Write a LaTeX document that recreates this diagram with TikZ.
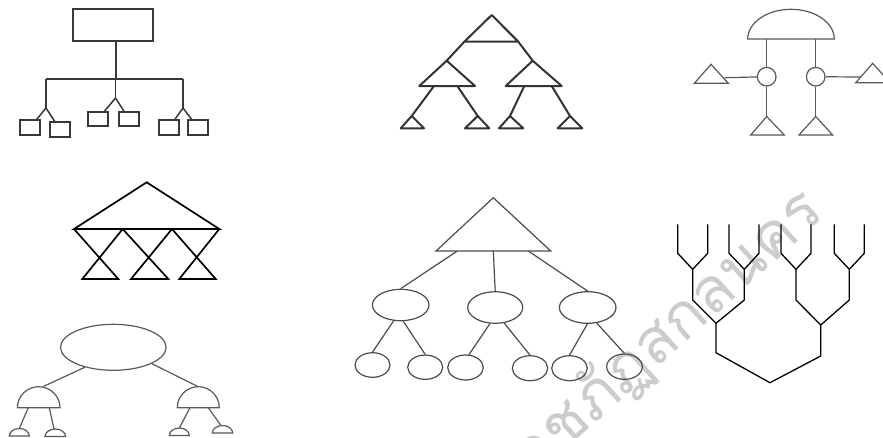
\documentclass[tikz,border=0pt]{standalone}
\usepackage{fontspec}
\newfontfamily\thaifont[Script=Thai]{Loma}
\usetikzlibrary{shapes.geometric}
\newcommand\mydome[5]{%
  \draw[#1] ({#2-#4},#3) .. controls ({#2-#4},{#3-0.552*#5}) and ({#2-0.552*#4},{#3-#5}) .. (#2,{#3-#5}) .. controls ({#2+0.552*#4},{#3-#5}) and ({#2+#4},{#3-0.552*#5}) .. ({#2+#4},#3) -- cycle;}
\begin{document}
\begin{tikzpicture}[x=1pt,y=-1pt,
  ln1/.style={draw=black!78, line width=1.5pt},
  ln2/.style={draw=black!80, line width=2pt, line join=round},
  ln3/.style={draw=black!65, line width=1.2pt, line join=miter},
  ln4/.style={draw=black, line width=1.7pt, line join=miter},
  ln5/.style={draw=black!65, line width=1.2pt},
  ln6/.style={draw=black!70, line width=1.2pt},
  ln7/.style={draw=black, line width=1.3pt, line join=miter},
  rbox/.style={ln1, rectangle, inner sep=0pt},
  circ/.style={ln3, circle, inner sep=0pt, minimum size=18.6pt},
  ell/.style={ellipse, inner sep=0pt},
  wmark/.style={text=black!20, font=\thaifont\fontsize{62}{62}\selectfont, inner sep=0pt}]
\fill[white] (0,0) rectangle (883,437);
\useasboundingbox (0,0) rectangle (883,437);

% watermark
\node[wmark, rotate=42] (wm) at (657,343) {ราชภัฏสกลนคร};

% ---------- diagram 1 : boxes ----------
\node[rbox, minimum width=80pt, minimum height=32pt] (top1) at (113,25) {};
\coordinate (h0) at (116,79);
\coordinate (hL) at (46,79);
\coordinate (hR) at (183,79);
\coordinate (jL) at (46,108);
\coordinate (jM) at (115.5,98);
\coordinate (jR) at (183,108);
\node[rbox, minimum width=20pt, minimum height=15pt] (b1) at (30,127.5) {};
\node[rbox, minimum width=20pt, minimum height=15pt] (b2) at (60,129.5) {};
\node[rbox, minimum width=20pt, minimum height=14pt] (b3) at (98,119) {};
\node[rbox, minimum width=20pt, minimum height=14pt] (b4) at (129,119) {};
\node[rbox, minimum width=20pt, minimum height=15pt] (b5) at (169,127.5) {};
\node[rbox, minimum width=20pt, minimum height=15pt] (b6) at (198,127.5) {};
\draw[ln1] (h0 |- top1.south) -- (h0);
\draw[ln1] (hL) -- (hR);
\draw[ln1] (hL) -- (jL);
\draw[ln1] (hR) -- (jR);
\draw[ln1] (jM |- h0) -- (jM);
\draw[ln1] (jL) -- (b1);
\draw[ln1] (jL) -- (b2);
\draw[ln1] (jM) -- (b3);
\draw[ln1] (jM) -- (b4);
\draw[ln1] (jR) -- (b5);
\draw[ln1] (jR) -- (b6);

% ---------- diagram 2 : triangles tree ----------
\coordinate (a0) at (491.7,15);
\coordinate (a0l) at (464.3,41.7);
\coordinate (a0r) at (518.3,41.7);
\coordinate (a1) at (446.7,60.7);
\coordinate (a1l) at (419.3,86);
\coordinate (a1r) at (475,86);
\coordinate (a2) at (532.7,60.7);
\coordinate (a2l) at (505.7,86);
\coordinate (a2r) at (561.7,86);
\coordinate (p1) at (434,86);
\coordinate (p2) at (457.3,86);
\coordinate (p3) at (524.3,86);
\coordinate (p4) at (551.7,86);
\coordinate (q1) at (411.7,116);
\coordinate (q2) at (477.7,116);
\coordinate (q3) at (510,116);
\coordinate (q4) at (570,116);
\draw[ln2] (a0) -- (a0r) -- (a0l) -- cycle;
\draw[ln2] (a1) -- (a1r) -- (a1l) -- cycle;
\draw[ln2] (a2) -- (a2r) -- (a2l) -- cycle;
\draw[ln2] (a0l) -- (a1);
\draw[ln2] (a0r) -- (a2);
\draw[ln2] (p1) -- (q1);
\draw[ln2] (p2) -- (q2);
\draw[ln2] (p3) -- (q3);
\draw[ln2] (p4) -- (q4);
\draw[ln2] (q1) -- (424,128.3) -- (400.7,128.3) -- cycle;
\draw[ln2] (q2) -- (489.3,128.3) -- (465,128.3) -- cycle;
\draw[ln2] (q3) -- (523.3,128.3) -- (499,128.3) -- cycle;
\draw[ln2] (q4) -- (582.3,128.3) -- (557.7,128.3) -- cycle;

% ---------- diagram 3 : dome with circles ----------
\mydome{ln3}{791}{39}{43.3}{29.7}
\coordinate (d3a) at (766.7,39);
\coordinate (d3b) at (815.7,39);
\node[circ] (c1) at (766.7,76.7) {};
\node[circ] (c2) at (815.7,76.7) {};
\coordinate (tl) at (711,64.3);
\coordinate (tlr) at (725,77.7);
\coordinate (tr) at (872.7,63.3);
\coordinate (trl) at (860,77);
\coordinate (tb1) at (766.7,116.5);
\coordinate (tb2) at (815.7,116.5);
\draw[ln3] (d3a) -- (c1);
\draw[ln3] (d3b) -- (c2);
\draw[ln3] (tlr) -- (c1);
\draw[ln3] (c2) -- (trl);
\draw[ln3] (c1) -- (tb1);
\draw[ln3] (c2) -- (tb2);
\draw[ln3] (tl) -- (728.3,83.3) -- (694.3,83.3) -- cycle;
\draw[ln3] (tr) -- (890,82.7) -- (855.7,82.7) -- cycle;
\draw[ln3] (tb1) -- (784.3,135) -- (750.7,135) -- cycle;
\draw[ln3] (tb2) -- (832.7,135) -- (799,135) -- cycle;

% ---------- diagram 4 : triangle with crossings ----------
\coordinate (m0) at (146.7,182.3);
\coordinate (m1) at (74,229);
\coordinate (m2) at (122.7,229);
\coordinate (m3) at (172,229);
\coordinate (m4) at (219.3,229);
\coordinate (n1) at (82.3,279);
\coordinate (n2) at (118.3,279);
\coordinate (n3) at (131,279);
\coordinate (n4) at (168.3,279);
\coordinate (n5) at (179.3,279);
\coordinate (n6) at (215.7,279);
\draw[ln4] (m0) -- (m4) -- (m1) -- cycle;
\draw[ln4] (m1) -- (n2) -- (n1) -- (m2);
\draw[ln4] (m2) -- (n4) -- (n3) -- (m3);
\draw[ln4] (m3) -- (n6) -- (n5) -- (m4);

% ---------- diagram 5 : ellipse with domes ----------
\node[ell, ln5, minimum width=105.6pt, minimum height=46pt] (E) at (113.3,347.3) {};
\mydome{ln5}{38.7}{407.7}{21.3}{21}
\mydome{ln5}{198.3}{407.7}{21}{21}
\mydome{ln5}{19.3}{436}{10}{7.5}
\mydome{ln5}{55.3}{436.5}{10.3}{7.5}
\mydome{ln5}{179.3}{435.5}{10}{7.5}
\mydome{ln5}{222.5}{433}{10.2}{7.5}
\coordinate (dL) at (43.3,386.5);
\coordinate (dR) at (198.3,386.7);
\coordinate (dLa) at (28.3,407.7);
\coordinate (dLb) at (49.3,407.7);
\coordinate (dRa) at (190,407.7);
\coordinate (dRb) at (208.3,407.7);
\coordinate (s1) at (19.3,428.5);
\coordinate (s2) at (54,429);
\coordinate (s3) at (179.3,428);
\coordinate (s4) at (221,425.5);
\draw[ln5] (E.215) -- (dL);
\draw[ln5] (E.337) -- (dR);
\draw[ln5] (dLa) -- (s1);
\draw[ln5] (dLb) -- (s2);
\draw[ln5] (dRa) -- (s3);
\draw[ln5] (dRb) -- (s4);

% ---------- diagram 6 : triangle with ellipses ----------
\coordinate (t6) at (493.3,197.7);
\coordinate (t6l) at (436,251);
\coordinate (t6r) at (550.7,251);
\coordinate (u1) at (457.3,251);
\coordinate (u2) at (493.3,251);
\coordinate (u3) at (528.3,251);
\draw[ln6, line join=miter] (t6) -- (t6r) -- (t6l) -- cycle;
\node[ell, ln6, minimum width=56.6pt, minimum height=31.4pt] (L) at (400.7,305) {};
\node[ell, ln6, minimum width=55pt, minimum height=31.6pt] (M) at (495.2,307.5) {};
\node[ell, ln6, minimum width=56.6pt, minimum height=31.6pt] (R) at (587.7,307.5) {};
\node[ell, ln6, minimum width=35pt, minimum height=24.6pt] (e1) at (372.5,365) {};
\node[ell, ln6, minimum width=35pt, minimum height=24.3pt] (e2) at (425.2,367.2) {};
\node[ell, ln6, minimum width=35.6pt, minimum height=25pt] (e3) at (465.5,367.5) {};
\node[ell, ln6, minimum width=35.4pt, minimum height=25pt] (e4) at (530,368.2) {};
\node[ell, ln6, minimum width=35.6pt, minimum height=25pt] (e5) at (569.5,368.2) {};
\node[ell, ln6, minimum width=35.6pt, minimum height=25.3pt] (e6) at (624.5,366.7) {};
\draw[ln6] (u1) -- (L.north);
\draw[ln6] (u2) -- (M.north);
\draw[ln6] (u3) -- (R.north);
\draw[ln6] (L.246) -- (e1.north);
\draw[ln6] (L.279) -- (e2.north);
\draw[ln6] (M.252) -- (e3.75);
\draw[ln6] (M.300) -- (e4.north);
\draw[ln6] (R.269) -- (e5.north);
\draw[ln6] (R.300) -- (e6.north);

% ---------- diagram 7 : branching tree ----------
\coordinate (k1) at (692.7,269.3);
\coordinate (k2) at (744.3,269.3);
\coordinate (k3) at (796,269.3);
\coordinate (k4) at (849.3,269.3);
\coordinate (k1b) at (692.7,300);
\coordinate (k2b) at (744.3,300);
\coordinate (k3b) at (796,300);
\coordinate (k4b) at (849.3,300);
\coordinate (g1) at (716,323.3);
\coordinate (g2) at (820.7,325);
\coordinate (g1b) at (716,352.7);
\coordinate (g2b) at (820.7,356);
\coordinate (root) at (770,382.7);
\draw[ln7] (677.7,224.3) -- (677.7,253.3) -- (k1) -- (707.7,253.3) -- (707.7,224.3);
\draw[ln7] (729,224.3) -- (729,253.3) -- (k2) -- (759,253.3) -- (759,224.3);
\draw[ln7] (781,224.3) -- (781,253.3) -- (k3) -- (811,253.3) -- (811,224.3);
\draw[ln7] (834.3,224.3) -- (834.3,253.3) -- (k4) -- (864.3,253.3) -- (864.3,224.3);
\draw[ln7] (k1) -- (k1b) -- (g1) -- (k2b) -- (k2);
\draw[ln7] (k3) -- (k3b) -- (g2) -- (k4b) -- (k4);
\draw[ln7] (g1) -- (g1b) -- (root) -- (g2b) -- (g2);
\end{tikzpicture}
\end{document}
